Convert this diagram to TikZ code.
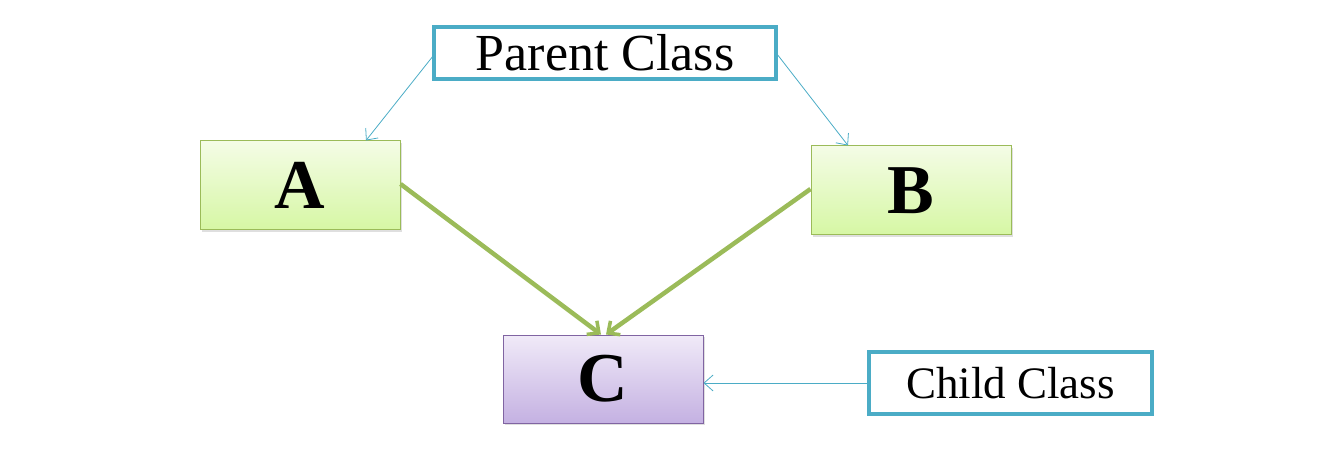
\documentclass[tikz,border=0pt]{standalone}
\usepackage{fontspec}
\setmainfont{Liberation Serif}
\usetikzlibrary{arrows.meta,shadows}
\definecolor{teal1}{HTML}{4BACC6}
\definecolor{grn}{HTML}{9BBB59}
\definecolor{grntop}{HTML}{F4FCE6}
\definecolor{grnbot}{HTML}{D6F7A4}
\definecolor{pur}{HTML}{8064A2}
\definecolor{purtop}{HTML}{F0EAF8}
\definecolor{purbot}{HTML}{C4B1E2}
\tikzset{
  classbox/.style={draw=grn, line width=1pt, top color=grntop, bottom color=grnbot,
    minimum width=200pt, minimum height=89pt, inner sep=0pt,
    font=\fontsize{70}{80}\selectfont\bfseries,
    drop shadow={shadow xshift=1.5pt, shadow yshift=-2pt, opacity=0.25}},
  childbox/.style={classbox, draw=pur, top color=purtop, bottom color=purbot},
  labelbox/.style={draw=teal1, line width=3.5pt, fill=white, inner sep=0pt},
  thinarrow/.style={draw=teal1, line width=0.8pt, -{Straight Barb[length=9pt,width=16pt,line width=0.8pt]}},
  thickarrow/.style={draw=grn, line width=4.5pt, -{Straight Barb[length=9pt,width=17pt,line width=3.5pt]}}
}
\begin{document}
\begin{tikzpicture}[x=1pt,y=-1pt]
\useasboundingbox (0,0) rectangle (1323,465);
\node[classbox] (A) at (300,185.5) {A};
\node[classbox] (B) at (911,190.5) {B};
\node[childbox, minimum height=88pt] (C) at (603,379) {C};
\node[labelbox, minimum width=342pt, minimum height=52pt, font=\fontsize{52}{60}\selectfont] (P) at (605,53) {Parent Class};
\node[labelbox, minimum width=283pt, minimum height=62pt, font=\fontsize{45}{54}\selectfont] (K) at (1010.5,383) {Child Class};
\draw[thinarrow] ([yshift=-4pt]P.west) -- ([xshift=66pt]A.north);
\draw[thinarrow] ([yshift=-2pt]P.east) -- ([xshift=-63pt]B.north);
\draw[thinarrow] (K.west) -- (K.west -| C.east);
\draw[thickarrow] ([yshift=1.5pt]A.east) -- ([xshift=-2pt]C.north);
\draw[thickarrow] ([yshift=1.5pt]B.west) -- ([xshift=3pt]C.north);
\end{tikzpicture}
\end{document}
